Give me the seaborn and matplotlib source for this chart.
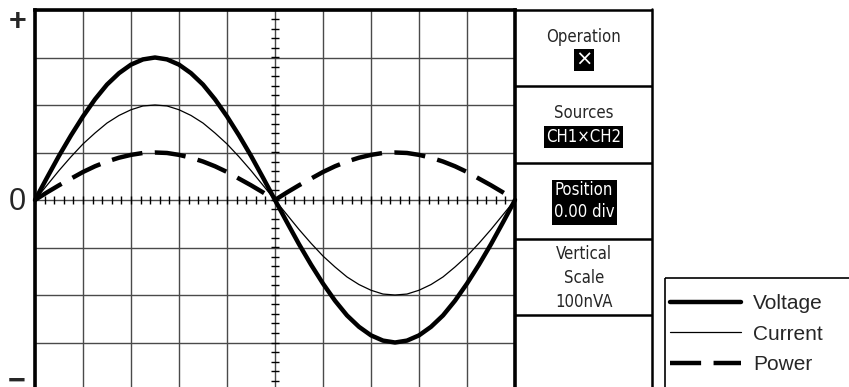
import numpy as np
import pandas as pd
import matplotlib
matplotlib.use("Agg")
import matplotlib.pyplot as plt
from matplotlib.patches import Rectangle
import seaborn as sns

# Horizontal position in graticule divisions (one full cycle across 10 divisions)
time_div = [i * 0.25 for i in range(41)]

# Vertical deflection in divisions
voltage = [0.00, 0.47, 0.93, 1.36, 1.76, 2.12, 2.43, 2.67, 2.85, 2.96, 3.00,
           2.96, 2.85, 2.67, 2.43, 2.12, 1.76, 1.36, 0.93, 0.47, 0.00,
           -0.47, -0.93, -1.36, -1.76, -2.12, -2.43, -2.67, -2.85, -2.96, -3.00,
           -2.96, -2.85, -2.67, -2.43, -2.12, -1.76, -1.36, -0.93, -0.47, 0.00]
current = [0.00, 0.31, 0.62, 0.91, 1.18, 1.41, 1.62, 1.78, 1.90, 1.98, 2.00,
           1.98, 1.90, 1.78, 1.62, 1.41, 1.18, 0.91, 0.62, 0.31, 0.00,
           -0.31, -0.62, -0.91, -1.18, -1.41, -1.62, -1.78, -1.90, -1.98, -2.00,
           -1.98, -1.90, -1.78, -1.62, -1.41, -1.18, -0.91, -0.62, -0.31, 0.00]
power = [0.00, 0.16, 0.31, 0.45, 0.59, 0.71, 0.81, 0.89, 0.95, 0.99, 1.00,
         0.99, 0.95, 0.89, 0.81, 0.71, 0.59, 0.45, 0.31, 0.16, 0.00,
         0.16, 0.31, 0.45, 0.59, 0.71, 0.81, 0.89, 0.95, 0.99, 1.00,
         0.99, 0.95, 0.89, 0.81, 0.71, 0.59, 0.45, 0.31, 0.16, 0.00]

series_names = ["Voltage", "Current", "Power"]
menu_titles = ["Operation", "Sources", "Position", "Vertical\nScale\n100nVA"]
menu_values = ["\u00d7", "CH1\u00d7CH2", "0.00 div"]
scale_marks = ["+", "0", "\u2212"]

sns.set_style("white")
plt.rcParams["font.family"] = ["Liberation Sans", "DejaVu Sans"]

W, H = 849, 387
fig = plt.figure(figsize=(W / 100, H / 100), dpi=100)


def fx(px):
    return px / W


def fy(py):
    return 1 - py / H


# Graticule: 10 x 8 divisions
ax = fig.add_axes([fx(35), fy(390), 480 / W, 380 / H])
ax.set_xlim(0, 10)
ax.set_ylim(-4, 4)
ax.set_xticks(range(0, 11))
ax.set_yticks(range(-4, 5))
ax.tick_params(length=0, labelbottom=False, labelleft=False)
ax.grid(True, color="#4a4a4a", linewidth=1.0)
for side, sp in ax.spines.items():
    sp.set_color("black")
    sp.set_linewidth(2.6)

# Minor ticks on the centre cross-hair
minor_x = np.arange(0, 10.001, 0.2)
minor_y = np.arange(-4, 4.001, 0.2)
ax.vlines(minor_x, -0.085, 0.085, color="black", linewidth=1.0, zorder=2)
ax.hlines(minor_y, 5 - 0.085, 5 + 0.085, color="black", linewidth=1.0, zorder=2)

df = pd.DataFrame({"t": time_div, "Voltage": voltage,
                   "Current": current, "Power": power})

sns.lineplot(data=df, x="t", y="Voltage", ax=ax, color="black",
             linewidth=3.2, estimator=None, sort=False, label=series_names[0])
sns.lineplot(data=df, x="t", y="Current", ax=ax, color="black",
             linewidth=0.9, estimator=None, sort=False, label=series_names[1])
sns.lineplot(data=df, x="t", y="Power", ax=ax, color="black",
             linewidth=3.2, estimator=None, sort=False, label=series_names[2],
             linestyle=(0, (7.0, 2.8)))
ax.set_xlabel("")
ax.set_ylabel("")
for ln in ax.get_lines():
    ln.set_clip_on(False)

handles, labels = ax.get_legend_handles_labels()
ax.legend(handles, labels, loc="center left",
          bbox_to_anchor=(fx(670), fy(334)), bbox_transform=fig.transFigure,
          frameon=False, handlelength=3.4, handletextpad=0.6,
          labelspacing=0.55, borderpad=0, borderaxespad=0,
          prop={"family": ["Liberation Sans"], "size": 15})

# Overlay in pixel coordinates for the side menu and scale marks
ov = fig.add_axes([0, 0, 1, 1], zorder=5)
ov.set_xlim(0, W)
ov.set_ylim(H, 0)
ov.axis("off")
ov.patch.set_alpha(0)

for y in [10, 86, 163, 239, 315]:
    ov.plot([515, 652], [y, y], color="black", linewidth=1.8,
            solid_capstyle="butt")
ov.plot([652, 652], [9, 395], color="black", linewidth=1.8, clip_on=False)

# Legend frame
ov.add_patch(Rectangle((665, 278), 220, 140, fill=False, edgecolor="black",
                       linewidth=1.2, clip_on=True))

menu_font = {"family": ["DejaVu Sans"], "stretch": "condensed", "size": 12}
cx = 584
ov.text(cx, 37, menu_titles[0], ha="center", va="center", **menu_font)
ov.text(cx, 60, menu_values[0], ha="center", va="center", color="white",
        family=["DejaVu Sans"], size=15,
        bbox=dict(boxstyle="square,pad=0.05", fc="black", ec="none"))
ov.text(cx, 113, menu_titles[1], ha="center", va="center", **menu_font)
ov.text(cx, 137, menu_values[1], ha="center", va="center", color="white",
        bbox=dict(boxstyle="square,pad=0.12", fc="black", ec="none"),
        **menu_font)
ov.add_patch(Rectangle((552, 180), 65, 45, facecolor="black", edgecolor="none"))
ov.text(cx, 190, menu_titles[2], ha="center", va="center", color="white",
        **menu_font)
ov.text(cx, 212, menu_values[2], ha="center", va="center", color="white",
        **menu_font)
ov.text(cx, 278, menu_titles[3], ha="center", va="center",
        linespacing=1.4, **menu_font)

mark_family = ["Liberation Sans", "DejaVu Sans"]
ov.text(18, 22, scale_marks[0], ha="center", va="center", family=mark_family,
        size=22, weight="bold")
ov.text(17, 202, scale_marks[1], ha="center", va="center", family=mark_family,
        size=22)
ov.text(17, 382, scale_marks[2], ha="center", va="center", family=mark_family,
        size=22, weight="bold")

fig.savefig("out.png", dpi=100)
